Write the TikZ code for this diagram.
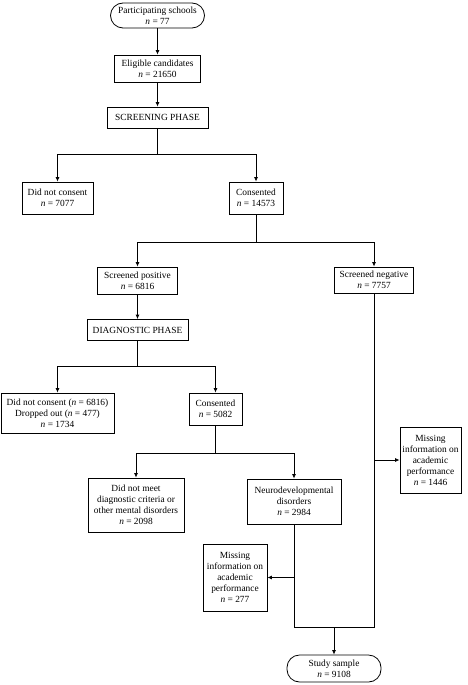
\documentclass[tikz,border=0pt]{standalone}
\usepackage{fontspec}
\setmainfont{Liberation Serif}
\usetikzlibrary{arrows.meta,calc}
\newcommand{\nn}{\textit{n}~=~}
\begin{document}
\begin{tikzpicture}[x=1pt,y=1pt,
  box/.style={draw, line width=0.8pt, align=center, inner sep=1pt,
    font=\fontsize{9.4}{11}\selectfont},
  capsule/.style={box, rounded corners=12.5pt},
  link/.style={line width=0.8pt},
  arr/.style={link, -{Latex[length=4.5pt,width=4pt]}}]
\useasboundingbox (0,0) rectangle (468,-685);
\fill[white] (0,0) rectangle (468,-685);
% nodes
\node[capsule, minimum width=94pt, minimum height=25pt] (schools) at (157.5,-15.5) {Participating schools\\\nn 77};
\node[box, minimum width=86pt, minimum height=27pt] (elig) at (157.5,-68.5) {Eligible candidates\\\nn 21650};
\node[box, minimum width=101pt, minimum height=21pt] (screen) at (157.5,-117.5) {SCREENING PHASE};
\node[box, minimum width=71pt, minimum height=32pt] (dnc1) at (57.5,-198) {Did not consent\\\nn 7077};
\node[box, minimum width=54pt, minimum height=32pt] (cons1) at (256,-198) {Consented\\\nn 14573};
\node[box, minimum width=80pt, minimum height=27pt] (spos) at (137.5,-280.5) {Screened positive\\\nn 6816};
\node[box, minimum width=79pt, minimum height=26pt] (sneg) at (374,-280) {Screened negative\\\nn 7757};
\node[box, minimum width=101pt, minimum height=21pt] (diag) at (137.5,-330) {DIAGNOSTIC PHASE};
\node[box, minimum width=113pt, minimum height=40pt] (dnc2) at (57.5,-413) {Did not consent (\textit{n}~=~6816)\\Dropped out (\textit{n}~=~477)\\\nn 1734};
\node[box, minimum width=53pt, minimum height=32pt] (cons2) at (215.5,-409) {Consented\\\nn 5082};
\node[box, minimum width=96pt, minimum height=54pt] (dnm) at (136,-505) {Did not meet\\diagnostic criteria or\\other mental disorders\\\nn 2098};
\node[box, minimum width=94pt, minimum height=45pt] (neuro) at (294,-501.5) {Neurodevelopmental\\disorders\\\nn 2984};
\node[box, minimum width=61pt, minimum height=66pt] (m1446) at (430.5,-460) {Missing\\information on\\academic\\performance\\\nn 1446};
\node[box, minimum width=64pt, minimum height=67pt] (m277) at (235,-577.5) {Missing\\information on\\academic\\performance\\\nn 277};
\node[capsule, minimum width=94pt, minimum height=27pt] (study) at (334,-668.5) {Study sample\\\nn 9108};
% junctions
\coordinate (j1) at (157.5,-154);
\coordinate (j2) at (256,-242);
\coordinate (j3) at (137.5,-366);
\coordinate (j4) at (215.5,-453);
\coordinate (b1) at (374,-627);
\coordinate (b2) at (294,-627);
\coordinate (bm) at ($(b1)!0.5!(b2)$);
% connectors
\draw[arr] (schools.south) -- (elig.north);
\draw[arr] (elig.south) -- (screen.north);
\draw[link] (screen.south) -- (j1);
\draw[arr] (j1) -| (dnc1.north);
\draw[arr] (j1) -| (cons1.north);
\draw[link] (cons1.south) -- (j2);
\draw[arr] (j2) -| (spos.north);
\draw[arr] (j2) -| (sneg.north);
\draw[arr] (spos.south) -- (diag.north);
\draw[link] (diag.south) -- (j3);
\draw[arr] (j3) -| (dnc2.north);
\draw[arr] (j3) -| (cons2.north);
\draw[link] (cons2.south) -- (j4);
\draw[arr] (j4) -| (dnm.north);
\draw[arr] (j4) -| (neuro.north);
\draw[link] (sneg.south) -- (b1) -- (b2) -- (neuro.south);
\draw[arr] (sneg.south |- m1446.west) -- (m1446.west);
\draw[arr] (neuro.south |- m277.east) -- (m277.east);
\draw[arr] (bm) -- (study.north);
\end{tikzpicture}
\end{document}
